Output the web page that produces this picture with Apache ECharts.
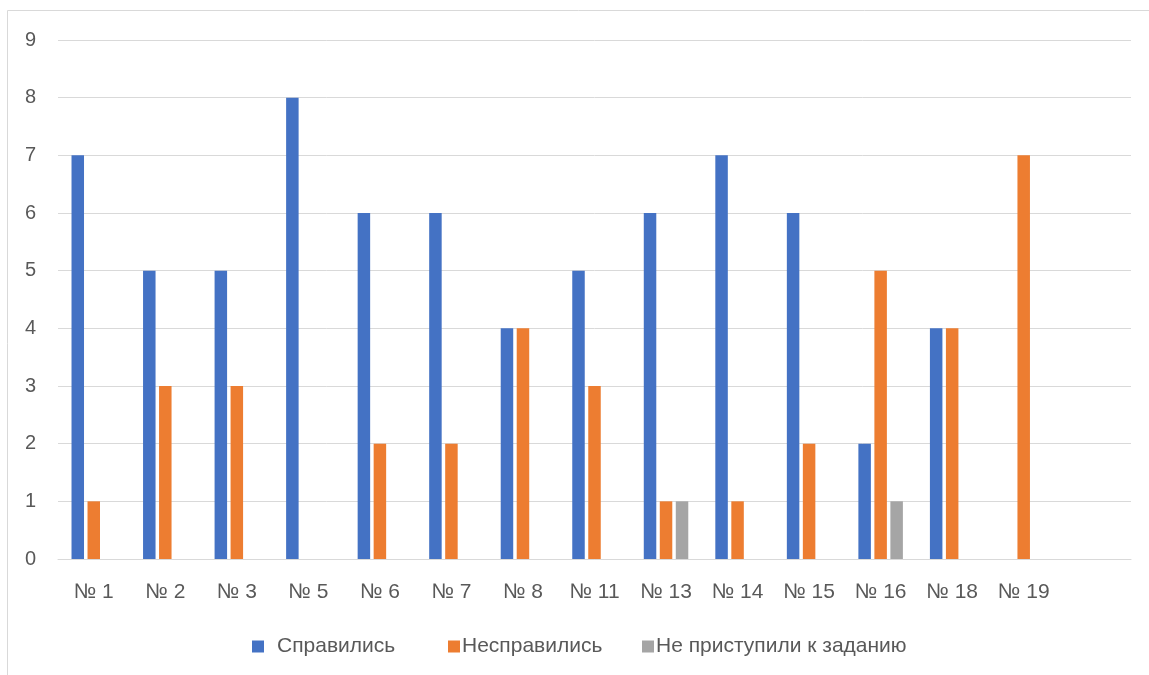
<!DOCTYPE html>
<html>
<head>
<meta charset="utf-8">
<script src="https://cdn.jsdelivr.net/npm/echarts@6/dist/echarts.min.js"></script>
<style>
  html, body { margin: 0; padding: 0; background: #fff; }
  #chart { width: 1149px; height: 675px; }
</style>
</head>
<body>
<div id="chart"></div>
<script>
// Task numbers (the last slot is an empty category, as in the source table)
const categories = ['№ 1', '№ 2', '№ 3', '№ 5', '№ 6', '№ 7', '№ 8', '№ 11', '№ 13', '№ 14', '№ 15', '№ 16', '№ 18', '№ 19', ''];
const yTicks = [0, 1, 2, 3, 4, 5, 6, 7, 8, 9];

const seriesNames = ['Справились', 'Несправились', 'Не приступили к заданию'];
const solved    = [7, 5, 5, 8, 6, 6, 4, 5, 6, 7, 6, 2, 4, 0, null];
const notSolved = [1, 3, 3, 0, 2, 2, 4, 3, 1, 1, 2, 5, 4, 7, null];
const notTried  = [0, 0, 0, 0, 0, 0, 0, 0, 1, 0, 0, 1, 0, 0, null];

const colors = ['#4472C4', '#ED7D31', '#A5A5A5'];
const textColor = '#595959';
const fontFamily = 'Liberation Sans, Arial, sans-serif';

const chart = echarts.init(document.getElementById('chart'), null, { renderer: 'canvas' });

function legendAt(name, left, pad) {
  return {
    data: [name],
    left: left,
    top: 636,
    padding: 0,
    itemWidth: 12,
    itemHeight: 12,
    icon: 'rect',
    itemGap: 0,
    textStyle: { color: textColor, fontSize: 21, fontFamily: fontFamily, padding: [0, 0, 0, pad] }
  };
}

chart.setOption({
  animation: false,
  color: colors,
  graphic: [{
    type: 'rect',
    shape: { x: 7.5, y: 10.5, width: 1200, height: 800 },
    style: { fill: 'none', stroke: '#D9D9D9', lineWidth: 1 },
    silent: true
  }],
  legend: [
    legendAt(seriesNames[0], 252, 8),
    legendAt(seriesNames[1], 448, -3),
    legendAt(seriesNames[2], 642, -3)
  ],
  grid: { left: 58, right: 18, top: 40, bottom: 116, containLabel: false },
  xAxis: {
    type: 'category',
    data: categories,
    axisLine: { lineStyle: { color: '#D9D9D9', width: 1 } },
    axisTick: { show: false },
    axisLabel: { color: textColor, fontSize: 21, fontFamily: fontFamily, margin: 23, interval: 0 }
  },
  yAxis: {
    type: 'value',
    min: yTicks[0],
    max: yTicks[yTicks.length - 1],
    interval: 1,
    axisLine: { show: false },
    axisTick: { show: false },
    axisLabel: { color: textColor, fontSize: 20, fontFamily: fontFamily, margin: 22 },
    splitLine: { lineStyle: { color: '#D9D9D9', width: 1 } }
  },
  series: [
    { name: seriesNames[0], type: 'bar', data: solved, barWidth: 12.5, barGap: '28%' },
    { name: seriesNames[1], type: 'bar', data: notSolved, barWidth: 12.5, barGap: '28%' },
    { name: seriesNames[2], type: 'bar', data: notTried, barWidth: 12.5, barGap: '28%' }
  ]
});
</script>
</body>
</html>
